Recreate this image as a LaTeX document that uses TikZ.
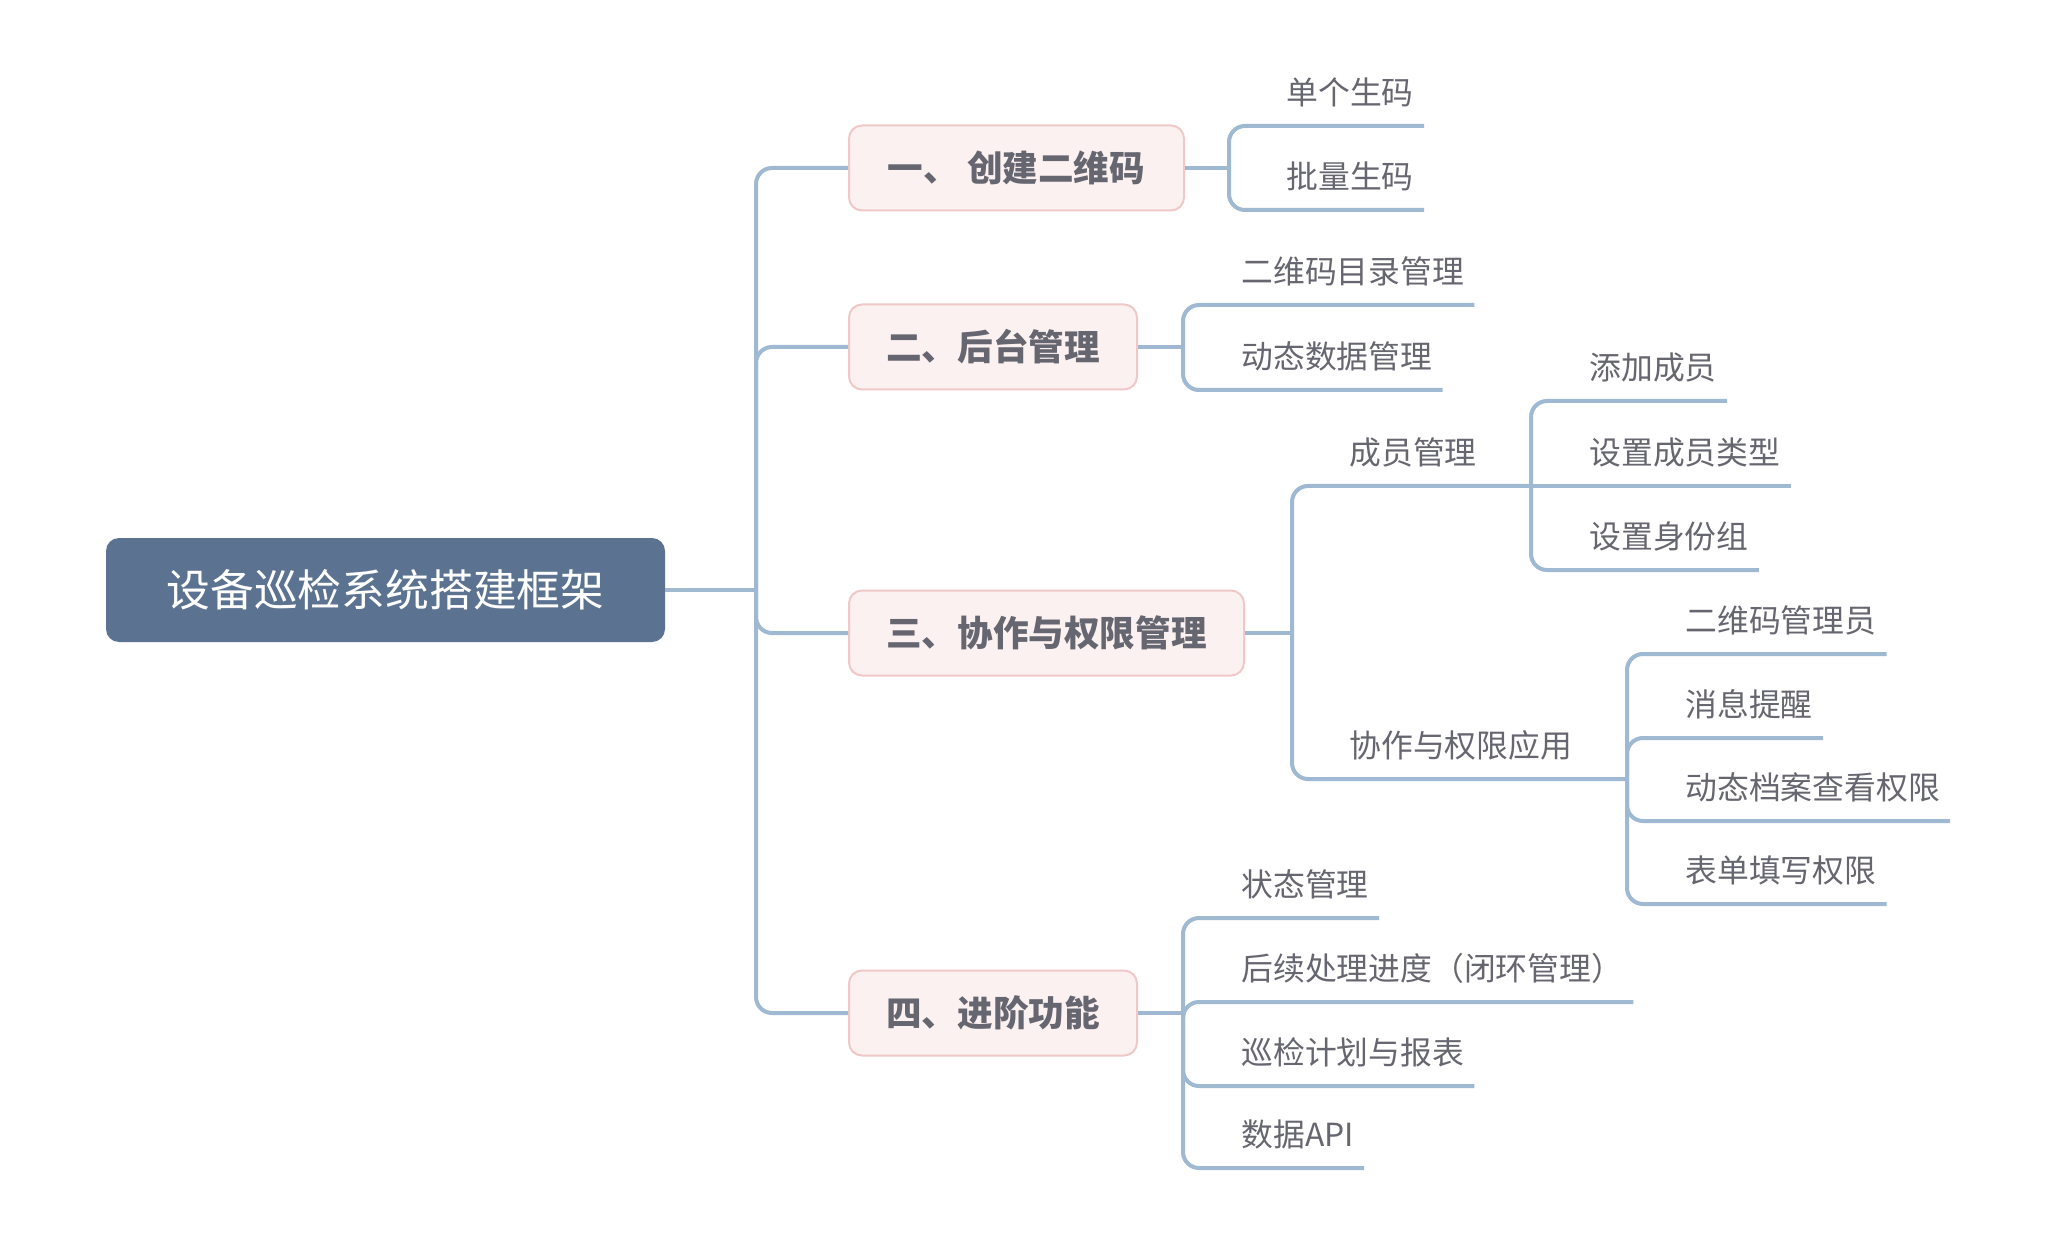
\documentclass[tikz,border=0pt]{standalone}
\usepackage{fontspec}
\newfontfamily\cjk{Noto Sans CJK SC}
\definecolor{rootfill}{RGB}{91,115,145}
\definecolor{linec}{RGB}{160,185,210}
\definecolor{boxfill}{RGB}{252,241,241}
\definecolor{boxline}{RGB}{240,200,200}
\definecolor{txt}{RGB}{102,102,112}
\tikzset{
  rootbox/.style={fill=rootfill, rounded corners=6.5pt, minimum width=279.5pt, minimum height=52pt,
    font=\cjk\fontsize{21.9}{26}\selectfont, text=white, inner sep=0pt},
  lonebox/.style={draw=boxline, line width=1pt, fill=boxfill, rounded corners=6.5pt, minimum height=42.5pt,
    font=\cjk\bfseries\fontsize{17.8}{21}\selectfont, text=txt, inner sep=0pt, anchor=west},
  leaf/.style={font=\cjk\fontsize{15.9}{19}\selectfont, text=txt, inner xsep=5pt, inner ysep=0pt,
    minimum height=33pt, anchor=south west},
  conn/.style={draw=linec, line width=2pt, rounded corners=8pt}
}
\begin{document}
\begin{tikzpicture}[x=0.5pt,y=-0.5pt]
\useasboundingbox[fill=white] (0,0) rectangle (2054,1256);
% root and level 1
\node[rootbox] (root) at (385.5,590) {设备巡检系统搭建框架};
\node[lonebox, minimum width=167.5pt] (b1) at (848,168) {一、 创建二维码};
\node[lonebox, minimum width=144pt] (b2) at (848,347) {二、后台管理};
\node[lonebox, minimum width=197.5pt] (b3) at (848,633) {三、协作与权限管理};
\node[lonebox, minimum width=144pt] (b4) at (848,1013) {四、进阶功能};
\coordinate (T) at (756,590);
\draw[conn] (root.east) -- (T);
\draw[conn] (T) |- (b1.west);
\draw[conn] (T) |- (b2.west);
\draw[conn] (T) |- (b3.west);
\draw[conn] (T) |- (b4.west);
% branch 1
\node[leaf] (l11) at (1276,126) {单个生码};
\node[leaf] (l12) at (1276,210) {批量生码};
\coordinate (S1) at (1229,168);
\draw[conn] (b1.east) -- (S1);
\draw[conn] (S1) |- (l11.south east);
\draw[conn] (S1) |- (l12.south east);
% branch 2
\node[leaf] (l21) at (1231,305) {二维码目录管理};
\node[leaf] (l22) at (1231,390) {动态数据管理};
\coordinate (S2) at (1183,347);
\draw[conn] (b2.east) -- (S2);
\draw[conn] (S2) |- (l21.south east);
\draw[conn] (S2) |- (l22.south east);
% branch 3
\node[leaf] (m1) at (1339,486) {成员管理};
\node[leaf] (m2) at (1339,779) {协作与权限应用};
\coordinate (S3) at (1292,633);
\coordinate (S31) at (1531,486);
\coordinate (S32) at (1627,779);
\draw[conn] (b3.east) -- (S3);
\draw[conn] (S3) |- (S31);
\draw[conn] (S3) |- (S32);
\node[leaf] (l311) at (1579,401) {添加成员};
\node[leaf] (l312) at (1579,486) {设置成员类型};
\node[leaf] (l313) at (1579,570) {设置身份组};
\draw[conn] (S31) |- (l311.south east);
\draw[conn] (S31) -- (l312.south east);
\draw[conn] (S31) |- (l313.south east);
\node[leaf] (l321) at (1675,654) {二维码管理员};
\node[leaf] (l322) at (1675,738) {消息提醒};
\node[leaf] (l323) at (1675,821) {动态档案查看权限};
\node[leaf] (l324) at (1675,904) {表单填写权限};
\draw[conn] (S32) |- (l321.south east);
\draw[conn] (S32) |- (l322.south east);
\draw[conn] (S32) |- (l323.south east);
\draw[conn] (S32) |- (l324.south east);
% branch 4
\node[leaf] (l41) at (1231,918) {状态管理};
\node[leaf] (l42) at (1231,1002) {后续处理进度（闭环管理）};
\node[leaf] (l43) at (1231,1086) {巡检计划与报表};
\node[leaf] (l44) at (1231,1168) {数据API};
\coordinate (S4) at (1183,1013);
\draw[conn] (b4.east) -- (S4);
\draw[conn] (S4) |- (l41.south east);
\draw[conn] (S4) |- (l42.south east);
\draw[conn] (S4) |- (l43.south east);
\draw[conn] (S4) |- (l44.south east);
\end{tikzpicture}
\end{document}
